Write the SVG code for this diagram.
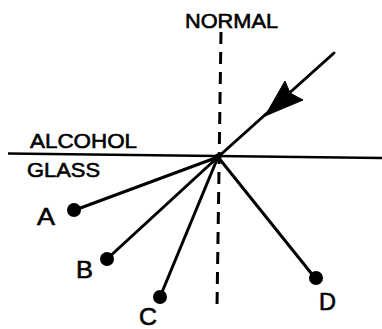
<svg xmlns="http://www.w3.org/2000/svg" width="382" height="329" viewBox="0 0 382 329">
<style>
text{font-family:"Liberation Sans",Arial,sans-serif;fill:#000;stroke:#000;stroke-width:0.6}
.lbl{font-size:21px}
.pt{font-size:24px}
.ray{stroke:#000;stroke-width:3;stroke-linecap:round;fill:none}
.dot{fill:#000}
</style>
<rect width="382" height="329" fill="#fff"/>
<g id="interface">
<line x1="8" y1="153.5" x2="382" y2="158" stroke="#000" stroke-width="2.5"/>
<text class="lbl" x="30" y="148" textLength="107" lengthAdjust="spacingAndGlyphs">ALCOHOL</text>
<text class="lbl" x="27" y="177" textLength="73" lengthAdjust="spacingAndGlyphs">GLASS</text>
</g>
<g id="normal">
<line x1="221" y1="32" x2="217" y2="307" stroke="#000" stroke-width="3" stroke-dasharray="12 8"/>
<text class="lbl" x="185" y="28" textLength="93" lengthAdjust="spacingAndGlyphs">NORMAL</text>
</g>
<g id="connectors">
<line class="ray" x1="334" y1="53" x2="218" y2="157"/>
<path d="M265,116 L285,81 L290,93 L303,100 Z" fill="#000" stroke="#000" stroke-width="1" stroke-linejoin="round"/>
<line class="ray" x1="218" y1="157" x2="75" y2="210"/>
<line class="ray" x1="218" y1="157" x2="107" y2="259"/>
<line class="ray" x1="218" y1="157" x2="160" y2="297"/>
<line class="ray" x1="218" y1="157" x2="315" y2="278"/>
<circle cx="218" cy="157" r="3.5" fill="#000"/>
</g>
<g id="A"><circle class="dot" cx="74" cy="210" r="7"/><text class="pt" x="37" y="225" textLength="18" lengthAdjust="spacingAndGlyphs">A</text></g>
<g id="B"><circle class="dot" cx="107" cy="259" r="7"/><text class="pt" x="76" y="278" textLength="17" lengthAdjust="spacingAndGlyphs">B</text></g>
<g id="C"><circle class="dot" cx="160" cy="297" r="7"/><text class="pt" x="139" y="325" textLength="18" lengthAdjust="spacingAndGlyphs">C</text></g>
<g id="D"><circle class="dot" cx="316" cy="278" r="7"/><text class="pt" x="319" y="310" textLength="17" lengthAdjust="spacingAndGlyphs">D</text></g>
</svg>
